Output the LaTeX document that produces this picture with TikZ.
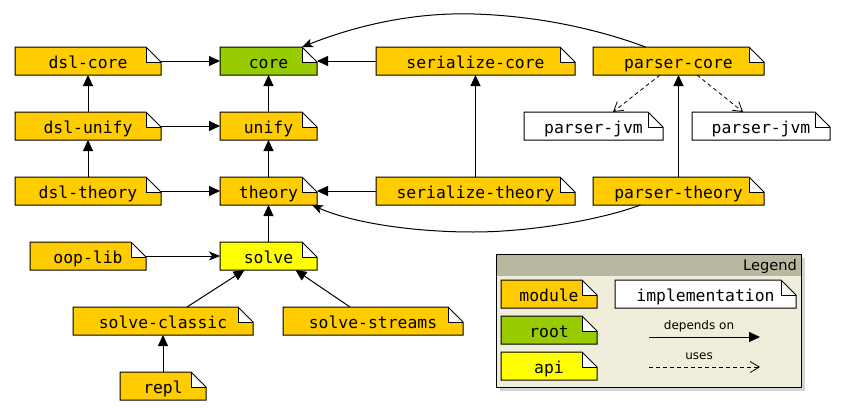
\documentclass[tikz,border=0pt]{standalone}
\usepackage{fontspec}
\setmainfont{DejaVu Sans}
\newfontfamily\notefont{DejaVu Sans Mono}
\usetikzlibrary{arrows.meta}
\definecolor{modcol}{HTML}{FFCC00}
\definecolor{rootcol}{HTML}{99CC00}
\definecolor{apicol}{HTML}{FFFF00}
\definecolor{leghead}{HTML}{B8B8A0}
\definecolor{legbody}{HTML}{F0EEDA}
\definecolor{legshadow}{HTML}{D4D4D4}
\tikzset{
  noteline/.style={draw=black, line width=1pt, line join=miter},
  notelabel/.style={font=\notefont\fontsize{16.4}{18}\selectfont, inner sep=0pt, outer sep=0pt,
    text height=14pt, text depth=0pt, minimum height=28pt},
  dep/.style={line width=1pt, -{Triangle[length=11pt,width=10pt]}},
  depst/.style={line width=1pt, -{Stealth[length=11pt,width=9pt,inset=3pt]}},
  uses/.style={line width=0.8pt, dash pattern=on 4pt off 3pt, -{Straight Barb[length=9pt,width=11pt]}},
  leglabel/.style={font=\fontsize{12}{14}\selectfont, anchor=base, inner sep=0pt},
}
\newcommand\notebox[6]{%
  \fill[#5] (#2,#3) -- (#4-15,#3) -- (#4-15,#3+15) -- (#4,#3+15) -- (#4,#3+28) -- (#2,#3+28) -- cycle;
  \fill[white] (#4-15,#3) -- (#4-15,#3+15) -- (#4,#3+15) -- cycle;
  \draw[noteline] (#4-15,#3) -- (#4,#3+15) -- (#4,#3+28) -- (#2,#3+28) -- (#2,#3) -- cycle;
  \draw[noteline] (#4-15,#3) -- (#4-15,#3+15) -- (#4,#3+15);
  \node[notelabel, minimum width=#4pt-#2pt] (#1) at ({(#2+#4)/2},#3+14) {#6};
}
\begin{document}
\begin{tikzpicture}[x=1pt,y=-1pt]
\useasboundingbox (0,0) rectangle (846,415);
% modules
\notebox{dslcore}{15}{47}{161}{modcol}{dsl-core}
\notebox{core}{220}{47}{317}{rootcol}{core}
\notebox{sercore}{376}{47}{575}{modcol}{serialize-core}
\notebox{parsercore}{593}{47}{764}{modcol}{parser-core}
\notebox{dslunify}{15}{112}{161}{modcol}{dsl-unify}
\notebox{unify}{220}{112}{317}{modcol}{unify}
\notebox{jvma}{524}{112}{663}{white}{parser-jvm}
\notebox{jvmb}{692}{112}{830}{white}{parser-jvm}
\notebox{dsltheory}{15}{177}{161}{modcol}{dsl-theory}
\notebox{theory}{220}{177}{317}{modcol}{theory}
\notebox{sertheory}{376}{177}{575}{modcol}{serialize-theory}
\notebox{parsertheory}{593}{177}{764}{modcol}{parser-theory}
\notebox{ooplib}{30}{242}{146}{modcol}{oop-lib}
\notebox{solve}{220}{242}{317}{apicol}{solve}
\notebox{classic}{73}{307}{253}{modcol}{solve-classic}
\notebox{streams}{283}{307}{463}{modcol}{solve-streams}
\notebox{repl}{120}{372}{206}{modcol}{repl}
% connectors
\draw[dep] (dslcore) -- (core);
\draw[dep] (dslunify) -- (dslcore);
\draw[dep] (dslunify) -- (unify);
\draw[dep] (unify) -- (core);
\draw[dep] (dsltheory) -- (dslunify);
\draw[dep] (dsltheory) -- (theory);
\draw[dep] (theory) -- (unify);
\draw[dep] (solve) -- (theory);
\draw[depst] (ooplib) -- (solve);
\draw[dep] (sercore) -- (core);
\draw[dep] (sertheory) -- (sercore);
\draw[dep] (sertheory) -- (theory);
\draw[dep] (parsertheory) -- (parsercore);
\draw[uses] ([xshift=-18.5pt]parsercore.south) -- ([xshift=19.5pt]jvma.north);
\draw[uses] ([xshift=18.5pt]parsercore.south) -- ([xshift=-18pt]jvmb.north);
\draw[dep] ([xshift=24pt]classic.north) -- ([xshift=-24pt]solve.south);
\draw[dep] ([xshift=-23pt]streams.north) -- ([xshift=27pt]solve.south);
\draw[dep] (repl) -- (classic);
\coordinate (pk1) at (474,14);
\draw[depst] ([xshift=-33pt]parsercore.north) .. controls (600,30) and (540,16) .. (pk1)
  .. controls (408,12) and (350,28) .. ([xshift=-15pt]core.north east);
\coordinate (pk2) at (473,232);
\draw[depst] ([xshift=-38pt]parsertheory.south) .. controls (600,220) and (530,232) .. (pk2)
  .. controls (410,232) and (350,222) .. ([xshift=-5pt]theory.south east);
% legend
\fill[legshadow] (500,258) rectangle (805,391);
\fill[legbody] (496,254) rectangle (801,387);
\fill[leghead] (496,254) rectangle (801,276);
\draw[line width=1pt] (496,254) rectangle (801,387);
\node[anchor=base east, inner sep=0pt, font=\fontsize{14.6}{16}\selectfont] (legtitle) at (797,270) {Legend};
\notebox{lmodule}{501}{280}{597}{modcol}{module}
\notebox{lroot}{501}{316}{597}{rootcol}{root}
\notebox{lapi}{501}{352}{597}{apicol}{api}
\notebox{limpl}{615}{280}{796}{white}{implementation}
\coordinate (da) at (649,337);
\coordinate (db) at (760,337);
\draw[dep] (da) -- (db);
\node[leglabel] (deplabel) at (699,329) {depends on};
\coordinate (ua) at (649,367);
\coordinate (ub) at (760,367);
\draw[uses] (ua) -- (ub);
\node[leglabel] (uselabel) at (699,359) {uses};
\end{tikzpicture}
\end{document}
